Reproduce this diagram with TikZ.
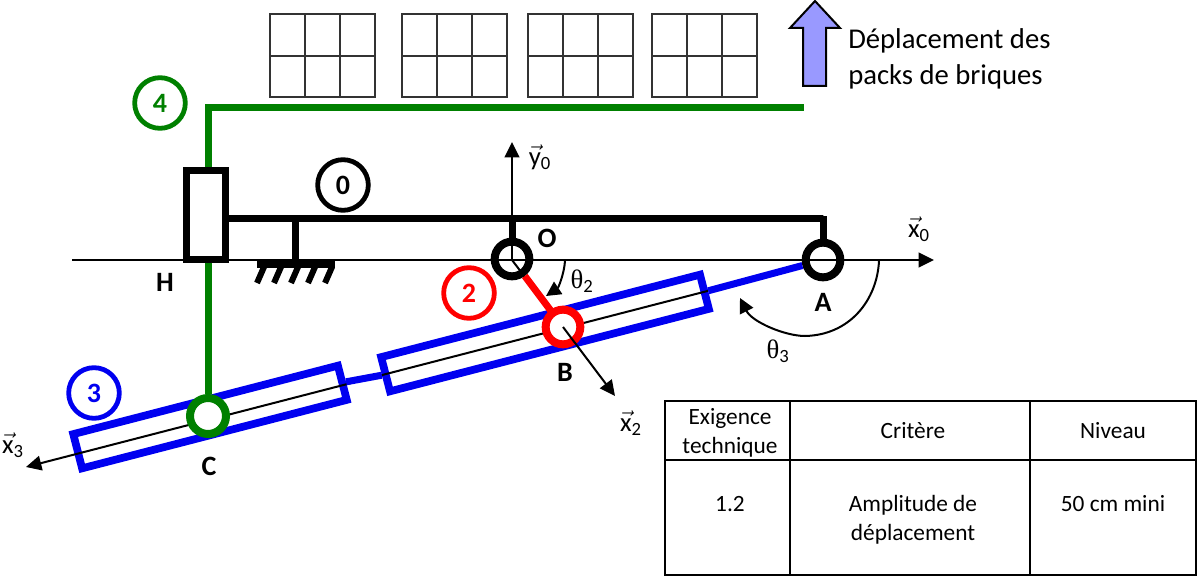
\documentclass[tikz,border=0pt]{standalone}
\usepackage{amsmath}
\usepackage{fontspec}
\setmainfont{Carlito}
\newfontfamily\thetafont{Liberation Serif}
\usetikzlibrary{arrows.meta,positioning,calc}
\definecolor{linkgreen}{HTML}{008000}
\definecolor{linkblue}{HTML}{0000F0}
\definecolor{linkred}{HTML}{FF0000}
\definecolor{packarrow}{HTML}{9999FF}
\newcommand{\axlabel}[2]{$\vec{\mathrm{#1}}_{\mathrm{#2}}$}
\newcommand{\anglabel}[1]{{\thetafont θ}$_{\mathrm{#1}}$}
\tikzset{
  link/.style = {line width=5.25pt, draw=#1},
  axis/.style = {line width=1.5pt, -{Triangle[length=11.5pt,width=11pt]}},
  thinaxis/.style = {line width=1.5pt},
  pivot/.style = {circle, draw=#1, line width=6pt, inner sep=0pt, minimum size=26pt},
  partno/.style = {circle, draw=#1, text=#1, line width=3.6pt, inner sep=0pt, minimum size=38pt, font=\fontsize{21}{23}\selectfont\bfseries},
  rod/.style = {draw=linkblue, fill=white, line width=5.8pt, rotate=14.5, inner sep=0pt, minimum height=26.5pt},
  pointname/.style = {inner sep=0pt, font=\fontsize{21}{23}\selectfont\bfseries},
  axisname/.style = {inner sep=0pt, font=\fontsize{20}{22}\selectfont},
  brick/.style = {draw=black!80, line width=1.1pt},
  cell/.style = {align=center, inner sep=0pt, font=\fontsize{17.5}{21.5}\selectfont},
  rule/.style = {draw=black, line width=1.1pt},
}
\begin{document}
\begin{tikzpicture}[x=0.75pt,y=-0.75pt]
\useasboundingbox (0,0) rectangle (1198,577);

% packs de briques
\foreach \px in {270,402,528,652} {
  \draw[brick] (\px,14) rectangle +(105,83);
  \draw[brick] (\px,56) -- +(105,0);
  \draw[brick] (\px+35,14) -- +(0,83);
  \draw[brick] (\px+70,14) -- +(0,83);
}
\draw[draw=black, fill=packarrow, line width=1.5pt, line join=miter]
  (815,1) -- (840,28) -- (826,28) -- (826,86) -- (803,86) -- (803,28) -- (790,28) -- cycle;
\node[align=left, inner sep=0pt, anchor=west, font=\fontsize{21.5}{27}\selectfont] (deplacement) at (848,59) {Déplacement des\\packs de briques};

% axes
\coordinate (xstart) at (72,260);
\coordinate (xtip) at (934,260);
\coordinate (ytip) at (512,142);
\coordinate (xtwotip) at (615,396);
\coordinate (xthreetip) at (26,467);
\node[pivot=black] (O) at (512,259) {};
\node[pivot=black] (A) at (823,260) {};
\draw[axis] (xstart) -- (xtip);
\draw[axis] (512,260) -- (ytip);
\draw[thinaxis] (512,260) -- (563,327);

% bati 0
\node[draw=black, fill=white, line width=5.25pt, minimum width=29.25pt, minimum height=66.75pt, inner sep=0pt] (H) at (206.3,214.7) {};
\coordinate (baseO) at (512,219);
\coordinate (baseA) at (823,219);
\coordinate (baseG) at (295.5,219);
\coordinate (groundG) at (295.5,262);
\draw[link=black] (H.east |- baseO) -- (baseA) -- ++(0,-2.6);
\draw[link=black] (baseA) -- (A);
\draw[link=black] (baseO) -- (O);
\draw[link=black] (baseG) -- (groundG);
\fill (257,260) rectangle (335,268);
\foreach \gx in {257,274,291,308,325}
  \draw[line width=4.5pt] (\gx+7,267) -- (\gx,283);

% tige 3 et coulisseau
\node[rod, minimum width=205pt] (rodC) at (210,417) {};
\node[rod, minimum width=247pt] (rodB) at (545,333) {};
\draw[axis] (rodB.east) -- (xthreetip);
\draw[link=linkblue] (A) -- (rodB.east);
\draw[link=linkblue] (rodB.west) -- (rodC.east);

% pieces 4 et 2
\node[pivot=linkgreen, fill=white, minimum size=27pt] (C) at (208,416) {};
\coordinate (corner) at (208,108);
\coordinate (platend) at (800,108);
\draw[link=linkgreen, line cap=rect] (corner) -- (platend);
\draw[link=linkgreen] (corner) -- (H.north -| corner);
\draw[link=linkgreen] (H.south -| corner) -- (C);
\draw[link=linkred] (O) -- (563,327);
\node[pivot=linkred, fill=white] (B) at (563,327) {};
\draw[axis] (B.center) -- (xtwotip);

% angles
\coordinate (thtwostart) at (565,261);
\coordinate (thtwotip) at (546,296);
\coordinate (ththreestart) at (879,261);
\coordinate (ththreebottom) at (805,336);
\coordinate (ththreetip) at (740,298);
\draw[line width=1.5pt, -{Triangle[length=11pt,width=11pt]}] (thtwostart) .. controls (564,275) and (558,288) .. (thtwotip);
\draw[line width=1.5pt] (ththreestart) .. controls (877,300) and (850,335) .. (ththreebottom);
\draw[line width=1.5pt, -{Triangle[length=11pt,width=11pt]}] (ththreebottom) .. controls (785,336) and (752,322) .. (ththreetip);

% reperes
\node[partno=black] (partzero) at (343,185) {0};
\node[partno=linkred] (parttwo) at (469,293) {2};
\node[partno=linkblue] (partthree) at (94,393) {3};
\node[partno=linkgreen] (partfour) at (160,103) {4};
\node[pointname] (nameH) at (165,282) {H};
\node[pointname] (nameO) at (547,238) {O};
\node[pointname] (nameA) at (823,302) {A};
\node[pointname] (nameB) at (565,372) {B};
\node[pointname] (nameC) at (209,466) {C};
\node[axisname] (namexzero) at (919,229) {\axlabel{x}{0}};
\node[axisname] (nameyzero) at (540,157) {\axlabel{y}{0}};
\node[axisname] (namextwo) at (631,423) {\axlabel{x}{2}};
\node[axisname] (namexthree) at (13,445) {\axlabel{x}{3}};
\node[axisname] (namethtwo) at (582,281) {\anglabel{2}};
\node[axisname] (namethree) at (778,351) {\anglabel{3}};

% tableau
\draw[rule] (665,401) rectangle (1196,575);
\draw[rule] (665,460) -- (1196,460);
\draw[rule] (790,401) -- (790,575);
\draw[rule] (1030,401) -- (1030,575);
\node[cell] (exigence) at (730,433) {Exigence\\technique};
\node[cell] (critere) at (913,431) {Critère};
\node[cell] (niveau) at (1113,431) {Niveau};
\node[cell] (numero) at (730,504) {1.2};
\node[cell] (amplitude) at (913,520) {Amplitude de\\déplacement};
\node[cell] (mini) at (1113,504) {50 cm mini};
\end{tikzpicture}
\end{document}
